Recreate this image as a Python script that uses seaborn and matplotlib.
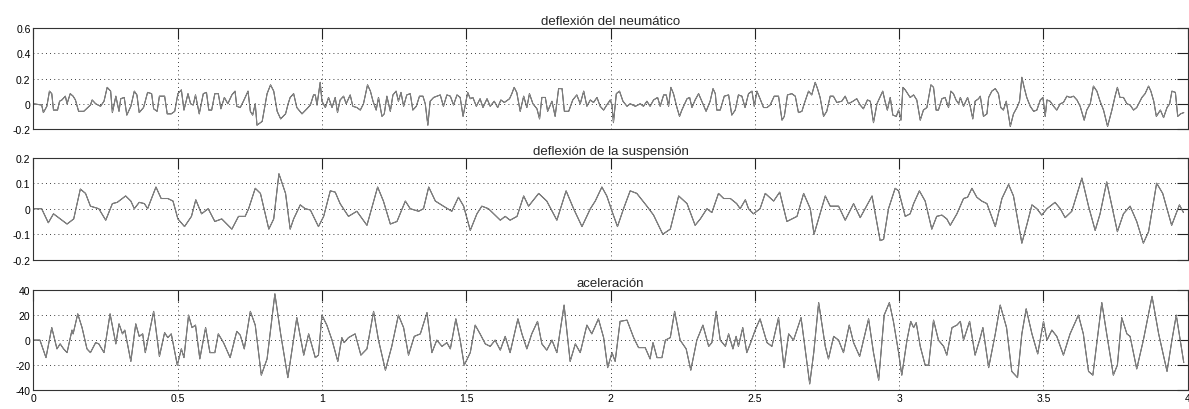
import numpy as np
import seaborn as sns
import matplotlib
matplotlib.use("Agg")
import matplotlib.pyplot as plt

# deflexion del neumatico
t_tire = [0, 0.029, 0.035, 0.047, 0.056, 0.064, 0.070, 0.084, 0.091, 0.099, 0.111, 0.117, 0.128, 0.138,
          0.146, 0.157, 0.175, 0.198, 0.204, 0.216, 0.233, 0.245, 0.256, 0.268, 0.274, 0.286, 0.297,
          0.303, 0.315, 0.324, 0.338, 0.350, 0.359, 0.367, 0.382, 0.396, 0.410, 0.417, 0.429, 0.437,
          0.455, 0.464, 0.478, 0.490, 0.501, 0.513, 0.522, 0.536, 0.545, 0.554, 0.562, 0.575, 0.589,
          0.600, 0.608, 0.618, 0.629, 0.641, 0.650, 0.662, 0.674, 0.688, 0.699, 0.705, 0.717, 0.728,
          0.744, 0.752, 0.760, 0.769, 0.775, 0.793, 0.810, 0.822, 0.833, 0.845, 0.857, 0.874, 0.883,
          0.890, 0.902, 0.913, 0.931, 0.948, 0.960, 0.971, 0.977, 0.983, 0.994, 1.000, 1.012, 1.023,
          1.035, 1.046, 1.054, 1.063, 1.075, 1.084, 1.098, 1.107, 1.121, 1.133, 1.144, 1.158, 1.168,
          1.177, 1.188, 1.196, 1.208, 1.216, 1.225, 1.237, 1.246, 1.257, 1.265, 1.274, 1.283, 1.294,
          1.306, 1.315, 1.327, 1.338, 1.350, 1.358, 1.367, 1.375, 1.387, 1.398, 1.410, 1.421, 1.433,
          1.445, 1.456, 1.468, 1.479, 1.489, 1.499, 1.505, 1.514, 1.523, 1.535, 1.548, 1.558, 1.572,
          1.583, 1.597, 1.609, 1.620, 1.632, 1.650, 1.658, 1.666, 1.675, 1.687, 1.699, 1.710, 1.719,
          1.731, 1.745, 1.754, 1.762, 1.774, 1.782, 1.797, 1.808, 1.820, 1.832, 1.840, 1.855, 1.869,
          1.883, 1.895, 1.907, 1.918,
          1.930, 1.941, 1.953, 1.964, 1.976, 1.987, 1.999, 2.005, 2.010, 2.020, 2.031, 2.043, 2.057,
          2.068, 2.086, 2.103, 2.114, 2.126, 2.137, 2.149, 2.163, 2.172, 2.184, 2.193, 2.201, 2.209,
          2.218, 2.230, 2.239, 2.247, 2.265, 2.274, 2.282, 2.293, 2.305, 2.316, 2.331, 2.345, 2.355,
          2.363, 2.368, 2.380, 2.394, 2.409, 2.420, 2.432, 2.443, 2.455, 2.466, 2.478, 2.490, 2.498,
          2.507, 2.518, 2.530, 2.542, 2.553, 2.567, 2.582, 2.594, 2.602, 2.613, 2.628, 2.640, 2.651,
          2.663, 2.671, 2.686, 2.697, 2.709, 2.717, 2.726, 2.738, 2.749, 2.761, 2.772, 2.784, 2.801,
          2.813, 2.824, 2.840, 2.853, 2.865, 2.876, 2.890, 2.900, 2.911, 2.923,
          2.943, 2.951, 2.959, 2.969, 2.978, 2.990, 2.998, 3.006, 3.013, 3.021, 3.038, 3.050, 3.061,
          3.073, 3.084, 3.096, 3.110, 3.119, 3.128, 3.136, 3.148, 3.159, 3.171, 3.179, 3.188, 3.197,
          3.206, 3.212, 3.223, 3.237, 3.246, 3.255, 3.263, 3.275, 3.281, 3.292, 3.304, 3.310, 3.321,
          3.333, 3.344, 3.352, 3.361, 3.371, 3.385, 3.396, 3.408, 3.417, 3.425, 3.433, 3.442, 3.454,
          3.466, 3.477, 3.489, 3.498, 3.506, 3.512, 3.523, 3.535, 3.546, 3.558, 3.569, 3.581, 3.592,
          3.604, 3.616, 3.627, 3.641, 3.650, 3.662, 3.673, 3.685, 3.696, 3.708, 3.722, 3.737, 3.748,
          3.756, 3.765, 3.777, 3.789, 3.800, 3.812, 3.823, 3.841, 3.852, 3.864, 3.872, 3.882, 3.891,
          3.905, 3.916, 3.928, 3.937, 3.945, 3.957, 3.965, 3.975, 3.986]
tire = [0, -0.01, -0.07, -0.02, 0.10, 0.08, -0.05, -0.05, 0.02, 0.03, 0.06, 0.0, 0.08, 0.06,
        0.03, -0.06, -0.06, -0.01, 0.03, 0.0, -0.02, 0.02, 0.13, 0.10, -0.07, 0.06, -0.06,
        0.04, 0.05, -0.09, -0.02, 0.10, 0.07, -0.07, -0.03, 0.09, 0.08, -0.04, -0.06, 0.06,
        0.06, -0.08, -0.08, -0.06, 0.08, 0.11, -0.05, 0.08, 0.0, -0.01, 0.07, -0.08, 0.08,
        0.09, -0.05, -0.05, 0.08, 0.08, -0.04, 0.05, 0.0, 0.07, 0.10, -0.02, -0.03, 0.02,
        0.10, -0.06, -0.09, 0.0, -0.17, -0.14, 0.08, 0.15, 0.10, -0.06, -0.12, -0.08, 0.0,
        0.05, 0.08, -0.03, -0.08, -0.04, -0.01, 0.07, 0.07, -0.01, 0.17, 0.02, -0.03, 0.05,
        -0.03, 0.05, -0.07, 0.03, 0.06, 0.0, 0.07, -0.02, -0.03, -0.05, 0.0, 0.15, 0.10,
        0.02, -0.05, 0.05, -0.10, -0.08, 0.06, -0.06, 0.07, 0.10, 0.02, 0.09, -0.02, 0.07,
        0.08, -0.05, -0.02, 0.06, 0.06, 0.0, -0.17, 0.02, 0.05, 0.06, 0.07, -0.02, 0.07,
        0.06, -0.01, 0.07, 0.05, -0.10, 0.02, 0.09, 0.04, 0.05, -0.02, 0.04, -0.03, 0.04,
        -0.02, 0.02, -0.03, 0.03, 0.01, 0.04, 0.08, 0.13, 0.09, -0.06, 0.06, -0.03, 0.08,
        0.0, -0.04, -0.12, 0.05, 0.05, -0.06, 0.02, -0.10, 0.12, 0.12, -0.06, -0.06, 0.03,
        0.07, 0.0, 0.10, -0.02,
        0.03, 0.01, 0.05, -0.02, -0.05, -0.01, 0.03, -0.01, -0.15, 0.08, 0.10, 0.02, -0.02,
        0.0, -0.02, 0.0, -0.02, 0.02, -0.02, 0.03, 0.05, -0.02, 0.07, 0.07, -0.02, 0.13,
        0.08, -0.03, -0.10, -0.05, 0.04, 0.05, -0.03, 0.03, 0.08, 0.02, -0.06, 0.02, 0.12,
        0.08, -0.05, -0.05, 0.06, 0.07, -0.09, -0.05, 0.07, 0.06, -0.03, 0.08, 0.10, -0.02,
        0.10, 0.04, -0.03, -0.03, -0.01, 0.06, 0.06, -0.13, -0.10, 0.07, 0.08, 0.06, -0.07,
        -0.06, 0.0, 0.10, 0.07, 0.17, 0.12, 0.05, -0.10, -0.06, 0.06, 0.06, 0.01, 0.02,
        0.06, 0.0, 0.02, 0.04, -0.01, -0.04, 0.03, 0.02, -0.15, 0.0,
        0.10, 0.02, -0.05, 0.05, -0.09, -0.10, -0.05, -0.13, 0.13, 0.11, 0.05, 0.07, 0.03,
        -0.13, -0.05, -0.03, 0.15, 0.13, -0.05, -0.05, 0.04, 0.05, -0.03, 0.10, 0.08, 0.03,
        0.0, 0.05, -0.02, 0.05, -0.02, -0.12, 0.02, 0.04, 0.06, -0.10, -0.08, 0.05, 0.10,
        0.12, 0.08, -0.03, -0.05, 0.02, -0.18, -0.08, -0.03, 0.02, 0.21, 0.13, 0.05, -0.02,
        -0.06, -0.05, 0.03, 0.05, -0.10, 0.03, 0.02, -0.02, -0.05, 0.0, 0.01, 0.06, 0.05,
        0.06, 0.03, -0.02, -0.13, -0.05, 0.0, 0.14, 0.10, 0.02, -0.05, -0.18, -0.05, 0.06,
        0.13, 0.05, 0.05, 0.0, -0.01, -0.05, -0.03, 0.05, 0.08, 0.14, 0.10, 0.02, -0.10,
        -0.05, -0.11, -0.03, 0.0, 0.10, 0.09, -0.10, -0.08, -0.07]

# deflexion de la suspension
t_susp = [0, 0.029, 0.052, 0.070, 0.117, 0.140, 0.163, 0.181, 0.198, 0.227, 0.251, 0.274, 0.291,
          0.320, 0.338, 0.350, 0.367, 0.385, 0.396, 0.425, 0.443, 0.466, 0.484, 0.501, 0.524, 0.548,
          0.563, 0.583, 0.606, 0.629, 0.653, 0.688, 0.711, 0.734, 0.746, 0.769, 0.787, 0.816, 0.833,
          0.851, 0.874,
          0.890, 0.902, 0.925, 0.942, 0.960, 0.988, 1.006, 1.029, 1.046, 1.063, 1.092, 1.121, 1.156,
          1.193, 1.213, 1.237, 1.260, 1.289, 1.306, 1.335, 1.352, 1.370, 1.393, 1.421, 1.450, 1.473,
          1.491, 1.514, 1.537, 1.554, 1.577, 1.618, 1.635, 1.652, 1.676, 1.699, 1.716, 1.751, 1.779,
          1.814, 1.846, 1.872, 1.901,
          1.930, 1.947, 1.970, 1.987, 2.005, 2.024, 2.045, 2.068, 2.091, 2.126, 2.149, 2.181, 2.207,
          2.236, 2.265, 2.293, 2.311, 2.334, 2.351, 2.374, 2.392, 2.415, 2.437, 2.449, 2.467, 2.478,
          2.495, 2.518, 2.536, 2.565, 2.586, 2.611, 2.646, 2.669, 2.692, 2.705, 2.726, 2.744, 2.761,
          2.790, 2.813, 2.842, 2.865, 2.906,
          2.934, 2.946, 2.963, 2.986, 2.998, 3.021, 3.038, 3.050, 3.070, 3.090, 3.113, 3.130, 3.148,
          3.165, 3.177, 3.200, 3.223, 3.237, 3.252, 3.269, 3.286, 3.304, 3.333, 3.356, 3.379, 3.396,
          3.425, 3.443, 3.460, 3.477, 3.494, 3.512, 3.540, 3.558, 3.575, 3.598, 3.633, 3.656, 3.679,
          3.696, 3.719, 3.737, 3.756, 3.777, 3.800, 3.823, 3.846, 3.864, 3.892, 3.913, 3.944, 3.971,
          3.985]
susp = [0, 0, -0.055, -0.02, -0.06, -0.04, 0.077, 0.06, 0.01, 0.0, -0.045, 0.02, 0.025,
        0.05, 0.03, 0.0, 0.025, 0.02, 0.0, 0.085, 0.04, 0.04, 0.03, -0.04, -0.07, -0.03,
        0.035, -0.02, 0.0, -0.05, -0.04, -0.08, -0.03, -0.03, 0.0, 0.08, 0.06, -0.08, -0.04,
        0.137, 0.06,
        -0.08, -0.04, 0.015, 0.0, -0.005, -0.07, -0.03, 0.07, 0.065, 0.02, -0.03, -0.01, -0.065,
        0.085, 0.03, -0.06, -0.05, 0.03, 0.0, -0.01, 0.0, 0.085, 0.03, 0.01, -0.01, 0.045,
        0.01, -0.085, -0.02, 0.01, 0.0, -0.045, -0.03, -0.045, -0.03, 0.05, 0.01, 0.06, 0.03,
        -0.045, 0.07, 0.0, -0.07,
        0.0, 0.03, 0.085, 0.05, -0.01, -0.07, 0.0, 0.07, 0.06, 0.01, -0.025, -0.10, -0.08,
        0.05, 0.02, -0.065, -0.04, 0.0, -0.015, 0.06, 0.04, 0.04, 0.02, 0.0, 0.035, 0.0,
        -0.02, 0.0, 0.06, 0.03, 0.065, -0.05, -0.03, 0.06, 0.0, -0.10, -0.02, 0.05, 0.01,
        0.01, -0.045, 0.02, -0.035, 0.05,
        -0.125, -0.12, 0.0, 0.08, 0.07, -0.03, -0.02, 0.02, 0.07, 0.03, -0.08, -0.03, -0.025,
        -0.04, -0.065, -0.02, 0.04, 0.045, 0.08, 0.045, 0.03, 0.02, -0.07, 0.04, 0.095, 0.05,
        -0.135, -0.06, 0.015, 0.0, -0.025, 0.0, 0.025, 0.0, -0.035, -0.01, 0.12, 0.01, -0.085,
        -0.02, 0.105, 0.01, -0.09, -0.02, 0.01, -0.05, -0.135, -0.09, 0.10, 0.06, -0.065, 0.015,
        -0.015]

# aceleracion
t_acc = [0, 0.023, 0.044, 0.064, 0.082, 0.093, 0.105, 0.117, 0.134, 0.138, 0.154, 0.169, 0.186,
         0.198, 0.216, 0.227, 0.245, 0.266, 0.286, 0.297, 0.309, 0.317, 0.338, 0.355, 0.367, 0.379,
         0.388, 0.417, 0.437, 0.455, 0.466, 0.478, 0.499, 0.513, 0.522, 0.538, 0.550, 0.562, 0.577,
         0.597, 0.612, 0.629, 0.641, 0.659, 0.682, 0.705, 0.717, 0.731, 0.752, 0.769, 0.790, 0.810,
         0.837, 0.857, 0.882,
         0.913, 0.937, 0.954, 0.977, 0.988, 1.000, 1.017, 1.035, 1.055, 1.069, 1.077, 1.092, 1.115,
         1.135, 1.156, 1.179, 1.196, 1.220, 1.242, 1.265, 1.283, 1.300, 1.320, 1.341, 1.364, 1.381,
         1.398, 1.416, 1.433, 1.445, 1.464, 1.479, 1.493, 1.514, 1.531, 1.548, 1.566, 1.583, 1.600,
         1.618, 1.635, 1.652, 1.679, 1.693, 1.710, 1.727, 1.747, 1.762, 1.779, 1.797, 1.814, 1.839,
         1.860, 1.878,
         1.895, 1.918, 1.935, 1.958, 1.976, 1.990, 2.005, 2.016, 2.033, 2.057, 2.080, 2.097, 2.120,
         2.137, 2.147, 2.161, 2.178, 2.190, 2.207, 2.222, 2.241, 2.262, 2.278, 2.299, 2.320, 2.340,
         2.351, 2.366, 2.380, 2.398, 2.409, 2.424, 2.435, 2.443, 2.458, 2.472, 2.484, 2.501, 2.518,
         2.542, 2.559, 2.582, 2.601, 2.617, 2.634, 2.660, 2.690, 2.704, 2.721, 2.744, 2.755, 2.773,
         2.790, 2.807, 2.827, 2.842, 2.863, 2.894, 2.911, 2.929,
         2.948, 2.966, 2.980, 2.998, 3.009, 3.027, 3.040, 3.050, 3.059, 3.073, 3.090, 3.102, 3.119,
         3.136, 3.154, 3.165, 3.183, 3.200, 3.212, 3.223, 3.244, 3.263, 3.281, 3.290, 3.310, 3.333,
         3.350, 3.372, 3.390, 3.410, 3.425, 3.440, 3.460, 3.480, 3.500, 3.512, 3.529, 3.546, 3.569,
         3.592, 3.621, 3.638, 3.656, 3.671, 3.702, 3.719, 3.742, 3.756, 3.771, 3.789, 3.800, 3.823,
         3.846, 3.876, 3.899, 3.928, 3.945, 3.960, 3.986]
acc = [0, 0, -14, 10, -7, -3, -7, -10, 8, 5, 21, 10, -7,
       -10, -2, -3, -10, 21, -3, 13, 5, 8, -17, 13, 3, 5,
       -10, 23, -13, 6, 2, 5, -20, -7, -14, 20, 10, 12, -15,
       10, -10, -10, 5, -2, -14, 7, 4, -7, 23, 12, -28, -15,
       37, 5, -30,
       18, -12, 5, -14, -12, 20, 12, 0, -17, 2, -2, 2, 5,
       -12, -7, 23, 0, -24, -5, 20, 10, -12, 3, 5, 22, -10,
       0, -5, -2, -7, 17, 0, -20, -10, 12, 5, -3, -5, 0,
       -8, 3, -10, 17, 5, -7, 5, 15, -3, -8, 0, -10, 28,
       -17, -3,
       -10, 12, 5, 17, 2, -22, -10, -17, 15, 16, 2, -6, -6,
       -15, -2, -14, -14, 0, 2, 23, 0, -7, -24, 0, 12, -5,
       -2, 23, 0, -5, 5, -7, 3, -5, 10, -10, -3, 8, 17,
       -2, -5, 18, -22, 5, 0, 18, -35, -10, 30, -5, -15, 3,
       0, -10, 12, -2, -13, 17, -10, -32,
       20, 30, 15, -10, -28, 0, 15, 10, 14, -5, -20, -20, 16,
       0, -5, -12, 10, 12, 15, 0, 15, -12, 2, 10, -22, 5,
       28, 10, -25, -30, 5, 25, 5, -11, 15, 0, 8, 3, -12,
       5, 20, 5, -25, -28, 30, 5, -28, -20, 18, 5, 3, -23,
       0, 35, 5, -25, 0, 20, -18]

titles = ["deflexión del neumático", "deflexión de la suspensión", "aceleración"]
yticks = [[-0.2, 0, 0.2, 0.4, 0.6], [-0.2, -0.1, 0, 0.1, 0.2], [-40, -20, 0, 20, 40]]
ytick_labels = [["-0.2", "0", "0.2", "0.4", "0.6"],
                ["-0.2", "-0.1", "0", "0.1", "0.2"],
                ["-40", "-20", "0", "20", "40"]]
xticks = [0, 0.5, 1, 1.5, 2, 2.5, 3, 3.5, 4]
xtick_labels = ["0", "0.5", "1", "1.5", "2", "2.5", "3", "3.5", "4"]

sns.set_style("white")
plt.rcParams['font.family'] = ['Liberation Sans', 'DejaVu Sans']

fig = plt.figure(figsize=(11.89, 4.10), dpi=100)
boxes = [[0.028, 0.683, 0.971, 0.246],
         [0.028, 0.364, 0.971, 0.249],
         [0.028, 0.046, 0.971, 0.244]]
series = [(t_tire, tire), (t_susp, susp), (t_acc, acc)]

for i in range(3):
    ax = fig.add_axes(boxes[i])
    tt, yy = series[i]
    # dark trace underneath, light one on top
    sns.lineplot(x=tt, y=yy, ax=ax, color='#111111', lw=0.75, estimator=None, sort=False)
    sns.lineplot(x=tt, y=yy, ax=ax, color='#9c9c9c', lw=0.55, estimator=None, sort=False)
    ax.set_xlim(0, 4)
    ax.set_ylim(yticks[i][0], yticks[i][-1])
    ax.set_xticks(xticks)
    ax.set_yticks(yticks[i])
    ax.set_yticklabels(ytick_labels[i])
    if i == 2:
        ax.set_xticklabels(xtick_labels)
    else:
        ax.set_xticklabels([])
    ax.tick_params(direction='in', length=8, width=0.8, top=True, right=True,
                   labelsize=7.5, pad=2, colors='#222222', labelcolor='black')
    ax.grid(True, color='black', linestyle=(0, (1, 4)), linewidth=0.6)
    for s in ax.spines.values():
        s.set_color('#333333')
        s.set_linewidth(0.8)
    ax.set_title(titles[i], fontsize=9.5, pad=3)
    ax.set_xlabel('')
    ax.set_ylabel('')

fig.savefig('out.png', dpi=100)
